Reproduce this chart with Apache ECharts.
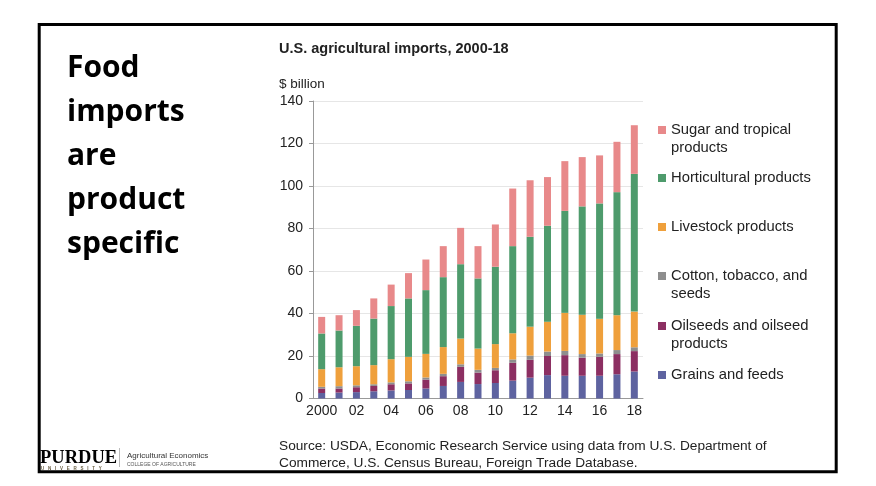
<!DOCTYPE html>
<html>
<head>
<meta charset="utf-8">
<style>
html,body{margin:0;padding:0;background:#fff;}
#c{width:876px;height:486px;}
</style>
<script src="https://cdn.jsdelivr.net/npm/echarts@6/dist/echarts.min.js"></script>
</head>
<body>
<div id="c"></div>
<script>
var years = ['2000','2001','2002','2003','2004','2005','2006','2007','2008','2009','2010','2011','2012','2013','2014','2015','2016','2017','2018'];
var tickLabels = ['2000','','02','','04','','06','','08','','10','','12','','14','','16','','18'];
var yTicks = [0,20,40,60,80,100,120,140];

var grains      = [2.6,2.8,3.0,3.4,3.8,4.0,4.7,5.9,7.8,6.8,7.3,8.4,9.8,11.0,10.7,10.7,10.7,11.4,12.7];
var oilseeds    = [2.1,1.9,2.3,2.5,2.9,3.1,4.2,4.6,7.1,5.4,6.0,8.4,8.4,9.0,9.7,8.5,8.9,9.5,9.6];
var cotton      = [0.8,1.1,0.9,0.8,0.9,1.0,1.0,1.1,1.2,1.3,1.1,1.6,2.0,2.1,2.0,1.7,1.6,1.9,1.8];
var livestock   = [8.3,8.9,9.0,9.0,10.9,11.5,11.1,12.6,12.1,10.0,11.2,12.3,13.6,14.0,17.9,18.5,16.3,16.4,16.8];
var horticulture= [16.8,17.3,19.0,21.9,25.0,27.5,30.0,32.9,35.0,33.0,36.4,41.0,42.3,45.2,48.0,51.0,54.3,57.9,64.8];
var sugar       = [7.8,7.2,7.4,9.5,10.1,11.9,14.4,14.6,17.1,15.2,19.9,27.1,26.6,22.9,23.4,23.2,22.6,23.7,22.9];

var seriesNames = ['Grains and feeds','Oilseeds and oilseed products','Cotton, tobacco, and seeds','Livestock products','Horticultural products','Sugar and tropical products'];
var legendLabels = {
  'Sugar and tropical products':'Sugar and tropical\nproducts',
  'Horticultural products':'Horticultural products',
  'Livestock products':'Livestock products',
  'Cotton, tobacco, and seeds':'Cotton, tobacco, and\nseeds',
  'Oilseeds and oilseed products':'Oilseeds and oilseed\nproducts',
  'Grains and feeds':'Grains and feeds'
};
var colors = ['#5E63A0','#8C2F62','#8E8E8E','#EFA03C','#4E9B6C','#E8898A'];
var seriesData = [grains, oilseeds, cotton, livestock, horticulture, sugar];

var chart = echarts.init(document.getElementById('c'), null, {renderer:'canvas'});

var series = seriesNames.map(function(n,i){
  return {name:n, type:'bar', stack:'total', data:seriesData[i], barWidth:7,
          itemStyle:{color:colors[i]}, emphasis:{disabled:true}};
});

// legend entries (top to bottom) and their icon centre y
var legendOrder = ['Sugar and tropical products','Horticultural products','Livestock products','Cotton, tobacco, and seeds','Oilseeds and oilseed products','Grains and feeds'];
var legendCenters = [130,178,227,276,326,375];
var legends = legendOrder.map(function(n,i){
  var multi = legendLabels[n].indexOf('\n') >= 0;
  return {
    data:[n], left:658, top: legendCenters[i] - (multi ? 27 : 9),
    icon:'rect', itemWidth:8, itemHeight:8, padding:0,
    formatter:function(name){var t = legendLabels[name]; return t.indexOf('\n') >= 0 ? ' \n' + t : t;},
    textStyle:{fontFamily:'Liberation Sans, Arial, sans-serif', fontSize:14.8, color:'#222', lineHeight:18},
    selectedMode:false
  };
});

var option = {
  backgroundColor:'#fff',
  animation:false,
  grid:{left:313, right:233, top:101, bottom:87.5},
  legend: legends,
  xAxis:{
    type:'category', data:years,
    axisLine:{lineStyle:{color:'#999'}},
    axisTick:{show:false},
    axisLabel:{interval:0, formatter:function(v,i){return tickLabels[i];}, color:'#222', fontSize:14,
               fontFamily:'Liberation Sans, Arial, sans-serif', margin:6}
  },
  yAxis:{
    type:'value', min:yTicks[0], max:yTicks[yTicks.length-1], interval:20,
    axisLine:{show:true, lineStyle:{color:'#999'}},
    axisTick:{show:true, length:4, lineStyle:{color:'#999'}},
    splitLine:{lineStyle:{color:'#e6e6e6'}},
    axisLabel:{color:'#222', fontSize:14, fontFamily:'Liberation Sans, Arial, sans-serif', margin:10}
  },
  series: series,
  graphic:[
    {type:'rect', shape:{x:39.2, y:24.5, width:797, height:447.3}, style:{fill:'none', stroke:'#000', lineWidth:3}, z:100},
    {type:'text', left:67, top:46, style:{text:'Food\nimports\nare\nproduct\nspecific', font:'bold 30px "Open Sans", sans-serif', fill:'#000', lineHeight:44}},
    {type:'text', left:279, top:41, style:{text:'U.S. agricultural imports, 2000-18', font:'bold 14.5px "Liberation Sans", Arial, sans-serif', fill:'#222'}},
    {type:'text', left:279, top:77, style:{text:'$ billion', font:'13.5px "Liberation Sans", Arial, sans-serif', fill:'#222'}},
    {type:'text', left:279, top:438, style:{text:'Source: USDA, Economic Research Service using data from U.S. Department of\nCommerce, U.S. Census Bureau, Foreign Trade Database.', font:'13.7px "Liberation Sans", Arial, sans-serif', fill:'#222', lineHeight:17}},
    {type:'text', left:40, top:449, style:{text:'PURDUE', font:'bold 18.5px "Liberation Serif", serif', fill:'#000'}, z:101},
    {type:'text', left:41, top:466, style:{text:'U   N   I   V   E   R   S   I   T   Y', font:'bold 4.5px "Liberation Sans", sans-serif', fill:'#6b6045'}, z:101},
    {type:'line', shape:{x1:119.5, y1:448, x2:119.5, y2:467}, style:{stroke:'#bbb', lineWidth:1}},
    {type:'text', left:127, top:452, style:{text:'Agricultural Economics', font:'8px "Liberation Sans", sans-serif', fill:'#333'}},
    {type:'text', left:127, top:462, style:{text:'COLLEGE OF AGRICULTURE', font:'5px "Liberation Sans", sans-serif', fill:'#555'}}
  ]
};
chart.setOption(option);
</script>
</body>
</html>
